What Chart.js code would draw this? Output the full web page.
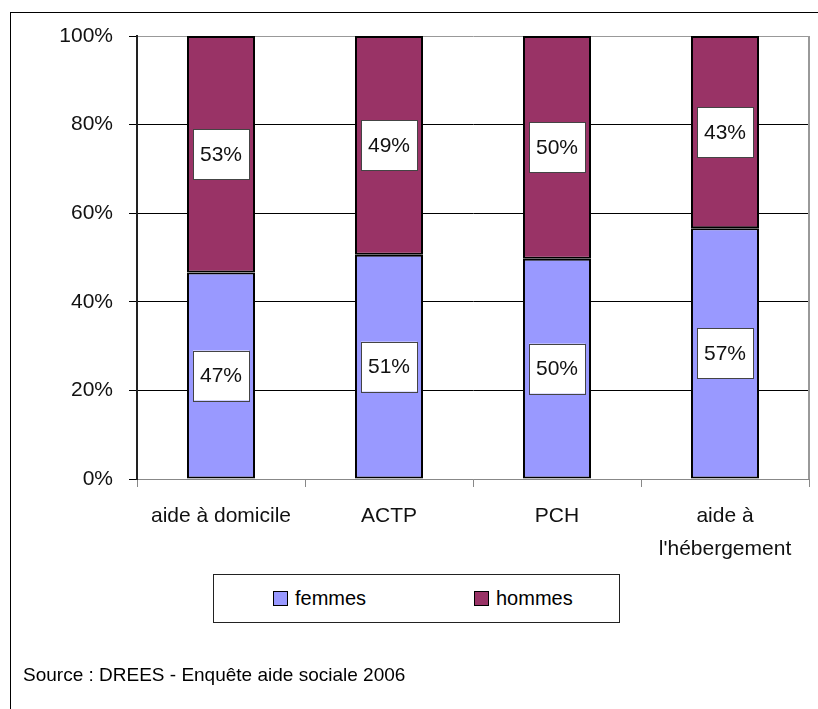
<!DOCTYPE html>
<html>
<head>
<meta charset="utf-8">
<script src="https://cdn.jsdelivr.net/npm/chart.js@4.4.1/dist/chart.umd.min.js"></script>
<style>
  html, body { margin: 0; padding: 0; background: #fff; }
  body { width: 818px; height: 709px; position: relative; overflow: hidden;
         font-family: 'Liberation Sans', Arial, sans-serif; }
  #frame { position: absolute; left: 10px; top: 12px; width: 900px; height: 800px;
           border-left: 1px solid #000; border-top: 1px solid #000; }
  #wrap { position: absolute; left: 0; top: 0; width: 818px; height: 709px; }
  #legend { position: absolute; left: 213px; top: 574px; width: 405px; height: 47px;
            border: 1px solid #222; background: #fff; }
  .item { position: absolute; top: 0; height: 47px; display: flex; align-items: center;
          font-size: 20px; color: #000; }
  .sw { width: 13px; height: 13px; border: 1.5px solid #000; margin-right: 7px; }
  #source { position: absolute; left: 23px; top: 664px; font-size: 19px; color: #000; white-space: nowrap; line-height: 22px; }
</style>
</head>
<body>
<div id="frame"></div>
<div id="wrap"><canvas id="c" width="818" height="709"></canvas></div>
<div id="legend"></div>
<div id="source">Source : DREES - Enquête aide sociale 2006</div>
<script>
const categories = ['aide à domicile', 'ACTP', 'PCH', ['aide à', "l'hébergement"]];
const femmes = [46.6, 50.6, 49.7, 56.6];
const hommes = [53.4, 49.4, 50.3, 43.4];
const seriesNames = ['femmes', 'hommes'];
const seriesColors = ['#9999FF', '#993366'];
const yTicks = [0, 20, 40, 60, 80, 100];

const FONT = "'Liberation Sans', Arial, sans-serif";
Chart.defaults.font.family = FONT;
Chart.defaults.color = '#000';

const labelPlugin = {
  id: 'boxLabels',
  afterDatasetsDraw(chart) {
    const ctx = chart.ctx;
    ctx.save();
    chart.data.datasets.forEach((ds, di) => {
      const meta = chart.getDatasetMeta(di);
      meta.data.forEach((bar, i) => {
        const v = ds.data[i];
        const txt = Math.round(v) + '%';
        const cx = bar.x;
        const cy = (bar.y + bar.base) / 2;
        const w = 56, h = 50;
        ctx.fillStyle = '#fff';
        ctx.fillRect(cx - w / 2, cy - h / 2, w, h);
        ctx.strokeStyle = '#444';
        ctx.lineWidth = 1;
        ctx.strokeRect(Math.round(cx - w / 2) + 0.5, Math.round(cy - h / 2) + 0.5, w, h);
        ctx.fillStyle = '#111';
        ctx.font = "21px " + FONT;
        ctx.textAlign = 'center';
        ctx.textBaseline = 'middle';
        ctx.fillText(txt, cx, cy + 1);
      });
    });
    ctx.restore();
  }
};

const rightBorder = {
  id: 'rightBorder',
  beforeDatasetsDraw(chart) {
    const a = chart.chartArea, ctx = chart.ctx;
    ctx.save();
    ctx.strokeStyle = '#999';
    ctx.lineWidth = 2;
    ctx.beginPath();
    ctx.moveTo(a.right, a.top);
    ctx.lineTo(a.right, a.bottom);
    ctx.stroke();
    ctx.restore();
  }
};

new Chart(document.getElementById('c'), {
  type: 'bar',
  data: {
    labels: categories,
    datasets: [
      { label: seriesNames[0], data: femmes, backgroundColor: seriesColors[0],
        borderColor: '#000', borderWidth: 2, borderSkipped: false,
        barPercentage: 0.405, categoryPercentage: 1 },
      { label: seriesNames[1], data: hommes, backgroundColor: seriesColors[1],
        borderColor: '#000', borderWidth: 2, borderSkipped: false,
        barPercentage: 0.405, categoryPercentage: 1 }
    ]
  },
  options: {
    responsive: false,
    animation: false,
    maintainAspectRatio: false,
    layout: { padding: { left: 0, right: 9, top: 36, bottom: 0 } },
    plugins: { legend: { display: false }, tooltip: { enabled: false } },
    scales: {
      x: {
        stacked: true,
        grid: { display: true, drawOnChartArea: false, drawTicks: true, tickLength: 8,
                color: '#888', lineWidth: 1, offset: true },
        border: { display: true, color: '#888', width: 1 },
        ticks: { font: { size: 21, lineHeight: 1.57 }, color: '#111', padding: 13,
                 maxRotation: 0, minRotation: 0, autoSkip: false },
        afterFit(scale) { scale.height = 230; }
      },
      y: {
        stacked: true,
        min: 0, max: 100,
        afterBuildTicks(scale) { scale.ticks = yTicks.map(v => ({ value: v })); },
        grid: { color: ctx => (ctx.tick && (ctx.tick.value === 100 || ctx.tick.value === 0)) ? '#999' : '#000',
                tickColor: '#000', tickLength: 8, lineWidth: 1 },
        border: { display: true, color: '#222', width: 2 },
        ticks: { font: { size: 21 }, color: '#111', padding: 16, callback: v => v + '%' },
        afterFit(scale) { scale.width = 137; }
      }
    }
  },
  plugins: [rightBorder, labelPlugin]
});

const legend = document.getElementById('legend');
const lefts = [59, 260];
seriesNames.forEach((n, i) => {
  const it = document.createElement('div');
  it.className = 'item';
  it.style.left = lefts[i] + 'px';
  const sw = document.createElement('span');
  sw.className = 'sw';
  sw.style.background = seriesColors[i];
  const t = document.createElement('span');
  t.textContent = n;
  it.appendChild(sw); it.appendChild(t);
  legend.appendChild(it);
});
</script>
</body>
</html>
